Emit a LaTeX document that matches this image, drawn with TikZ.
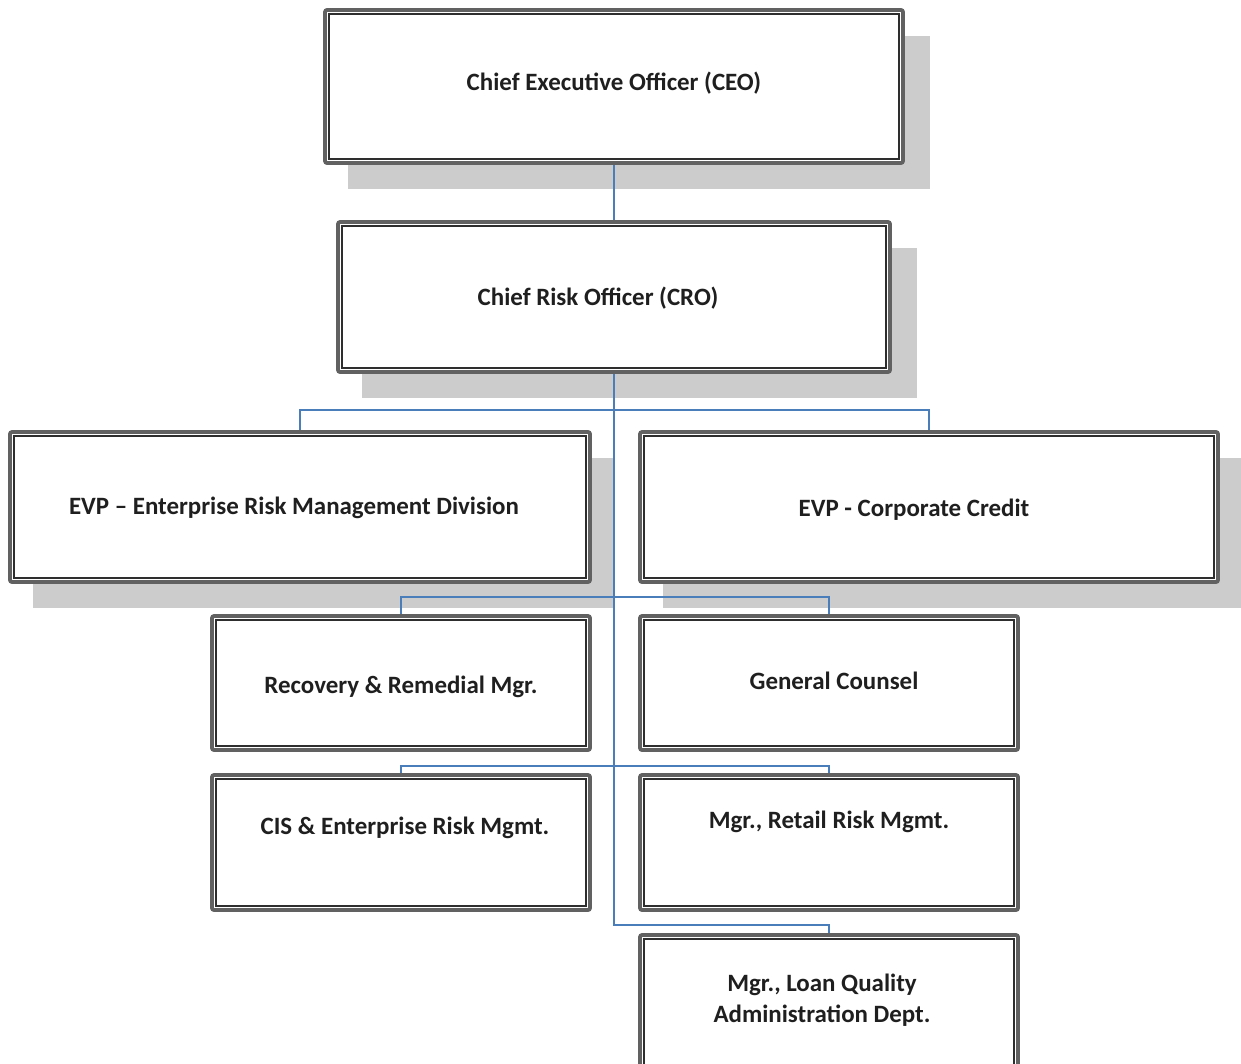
\documentclass[tikz,border=0pt]{standalone}
\usepackage{fontspec}
\setmainfont{Carlito}
\usetikzlibrary{calc}
\definecolor{conn}{HTML}{4A7EBB}
\definecolor{shade}{HTML}{CCCCCC}
\tikzset{
  box/.style={draw=black!62, line width=2.8pt, fill=white, rounded corners=1.5pt, inner sep=0pt},
  innerline/.style={draw=black!82, line width=1.8pt},
  connector/.style={draw=conn, line width=1.6pt},
  lbl/.style={font=\bfseries\fontsize{18.7}{23.3}\selectfont, text=black!88, align=center, inner sep=0pt},
  shadowbox/.style={fill=shade, draw=none}
}
\newcommand{\orgbx}[5]{%
  \node[box, minimum width={(#4-#2)*0.75pt}, minimum height={(#5-#3)*0.75pt}] (#1) at ({(#2+#4)/2},{(#3+#5)/2}) {};%
  \draw[innerline] ([shift={(6,6)}]#1.north west) rectangle ([shift={(-6,-6)}]#1.south east);%
}
\begin{document}
\begin{tikzpicture}[x=0.75pt,y=-0.75pt]
\clip (0,0) rectangle (1241,1063);
\fill[white] (0,0) rectangle (1241,1063);
% shadows
\fill[shadowbox] (348,36) rectangle (930,189);
\fill[shadowbox] (362,248) rectangle (917,398);
\fill[shadowbox] (33,458) rectangle (613,608);
\fill[shadowbox] (663,458) rectangle (1245,608);
% junction coordinates
\coordinate (j1) at (614,410);
\coordinate (j2) at (614,597);
\coordinate (j3) at (614,766);
\coordinate (j4) at (614,925);
% connector end points on the box edges
\path (614,163) coordinate (ceoS) (614,222) coordinate (croN) (614,372) coordinate (croS);
\path (300,432) coordinate (ermN) (929,432) coordinate (corpN)
      (401,616) coordinate (recN) (829,616) coordinate (gcN)
      (401,775) coordinate (cisN) (829,775) coordinate (retN)
      (829,935) coordinate (loanN);
% connectors
\draw[connector] (ceoS) -- (croN);
\draw[connector] (croS) -- (j4) -| (loanN);
\draw[connector] (ermN) |- (j1) -| (corpN);
\draw[connector] (recN) |- (j2) -| (gcN);
\draw[connector] (cisN) |- (j3) -| (retN);
% boxes
\orgbx{ceo}{325}{10}{903}{163}
\orgbx{cro}{338}{222}{890}{372}
\orgbx{erm}{10}{432}{590}{582}
\orgbx{corp}{640}{432}{1218}{582}
\orgbx{rec}{212}{616}{590}{750}
\orgbx{gc}{640}{616}{1018}{750}
\orgbx{cis}{212}{775}{590}{910}
\orgbx{ret}{640}{775}{1018}{910}
\orgbx{loan}{640}{935}{1018}{1072}
% labels
\node[lbl] (ceo-t) at (614,83) {Chief Executive Officer (CEO)};
\node[lbl] (cro-t) at (598,298) {Chief Risk Officer (CRO)};
\node[lbl] (erm-t) at (294,508) {EVP – Enterprise Risk Management Division};
\node[lbl] (corp-t) at (914,510) {EVP - Corporate Credit};
\node[lbl] (rec-t) at (401,687) {Recovery \& Remedial Mgr.};
\node[lbl] (gc-t) at (834,681) {General Counsel};
\node[lbl] (cis-t) at (405,828) {CIS \& Enterprise Risk Mgmt.};
\node[lbl] (ret-t) at (829,822) {Mgr., Retail Risk Mgmt.};
\node[lbl] (loan-t) at (822,1000) {Mgr., Loan Quality\\Administration Dept.};
\end{tikzpicture}
\end{document}
